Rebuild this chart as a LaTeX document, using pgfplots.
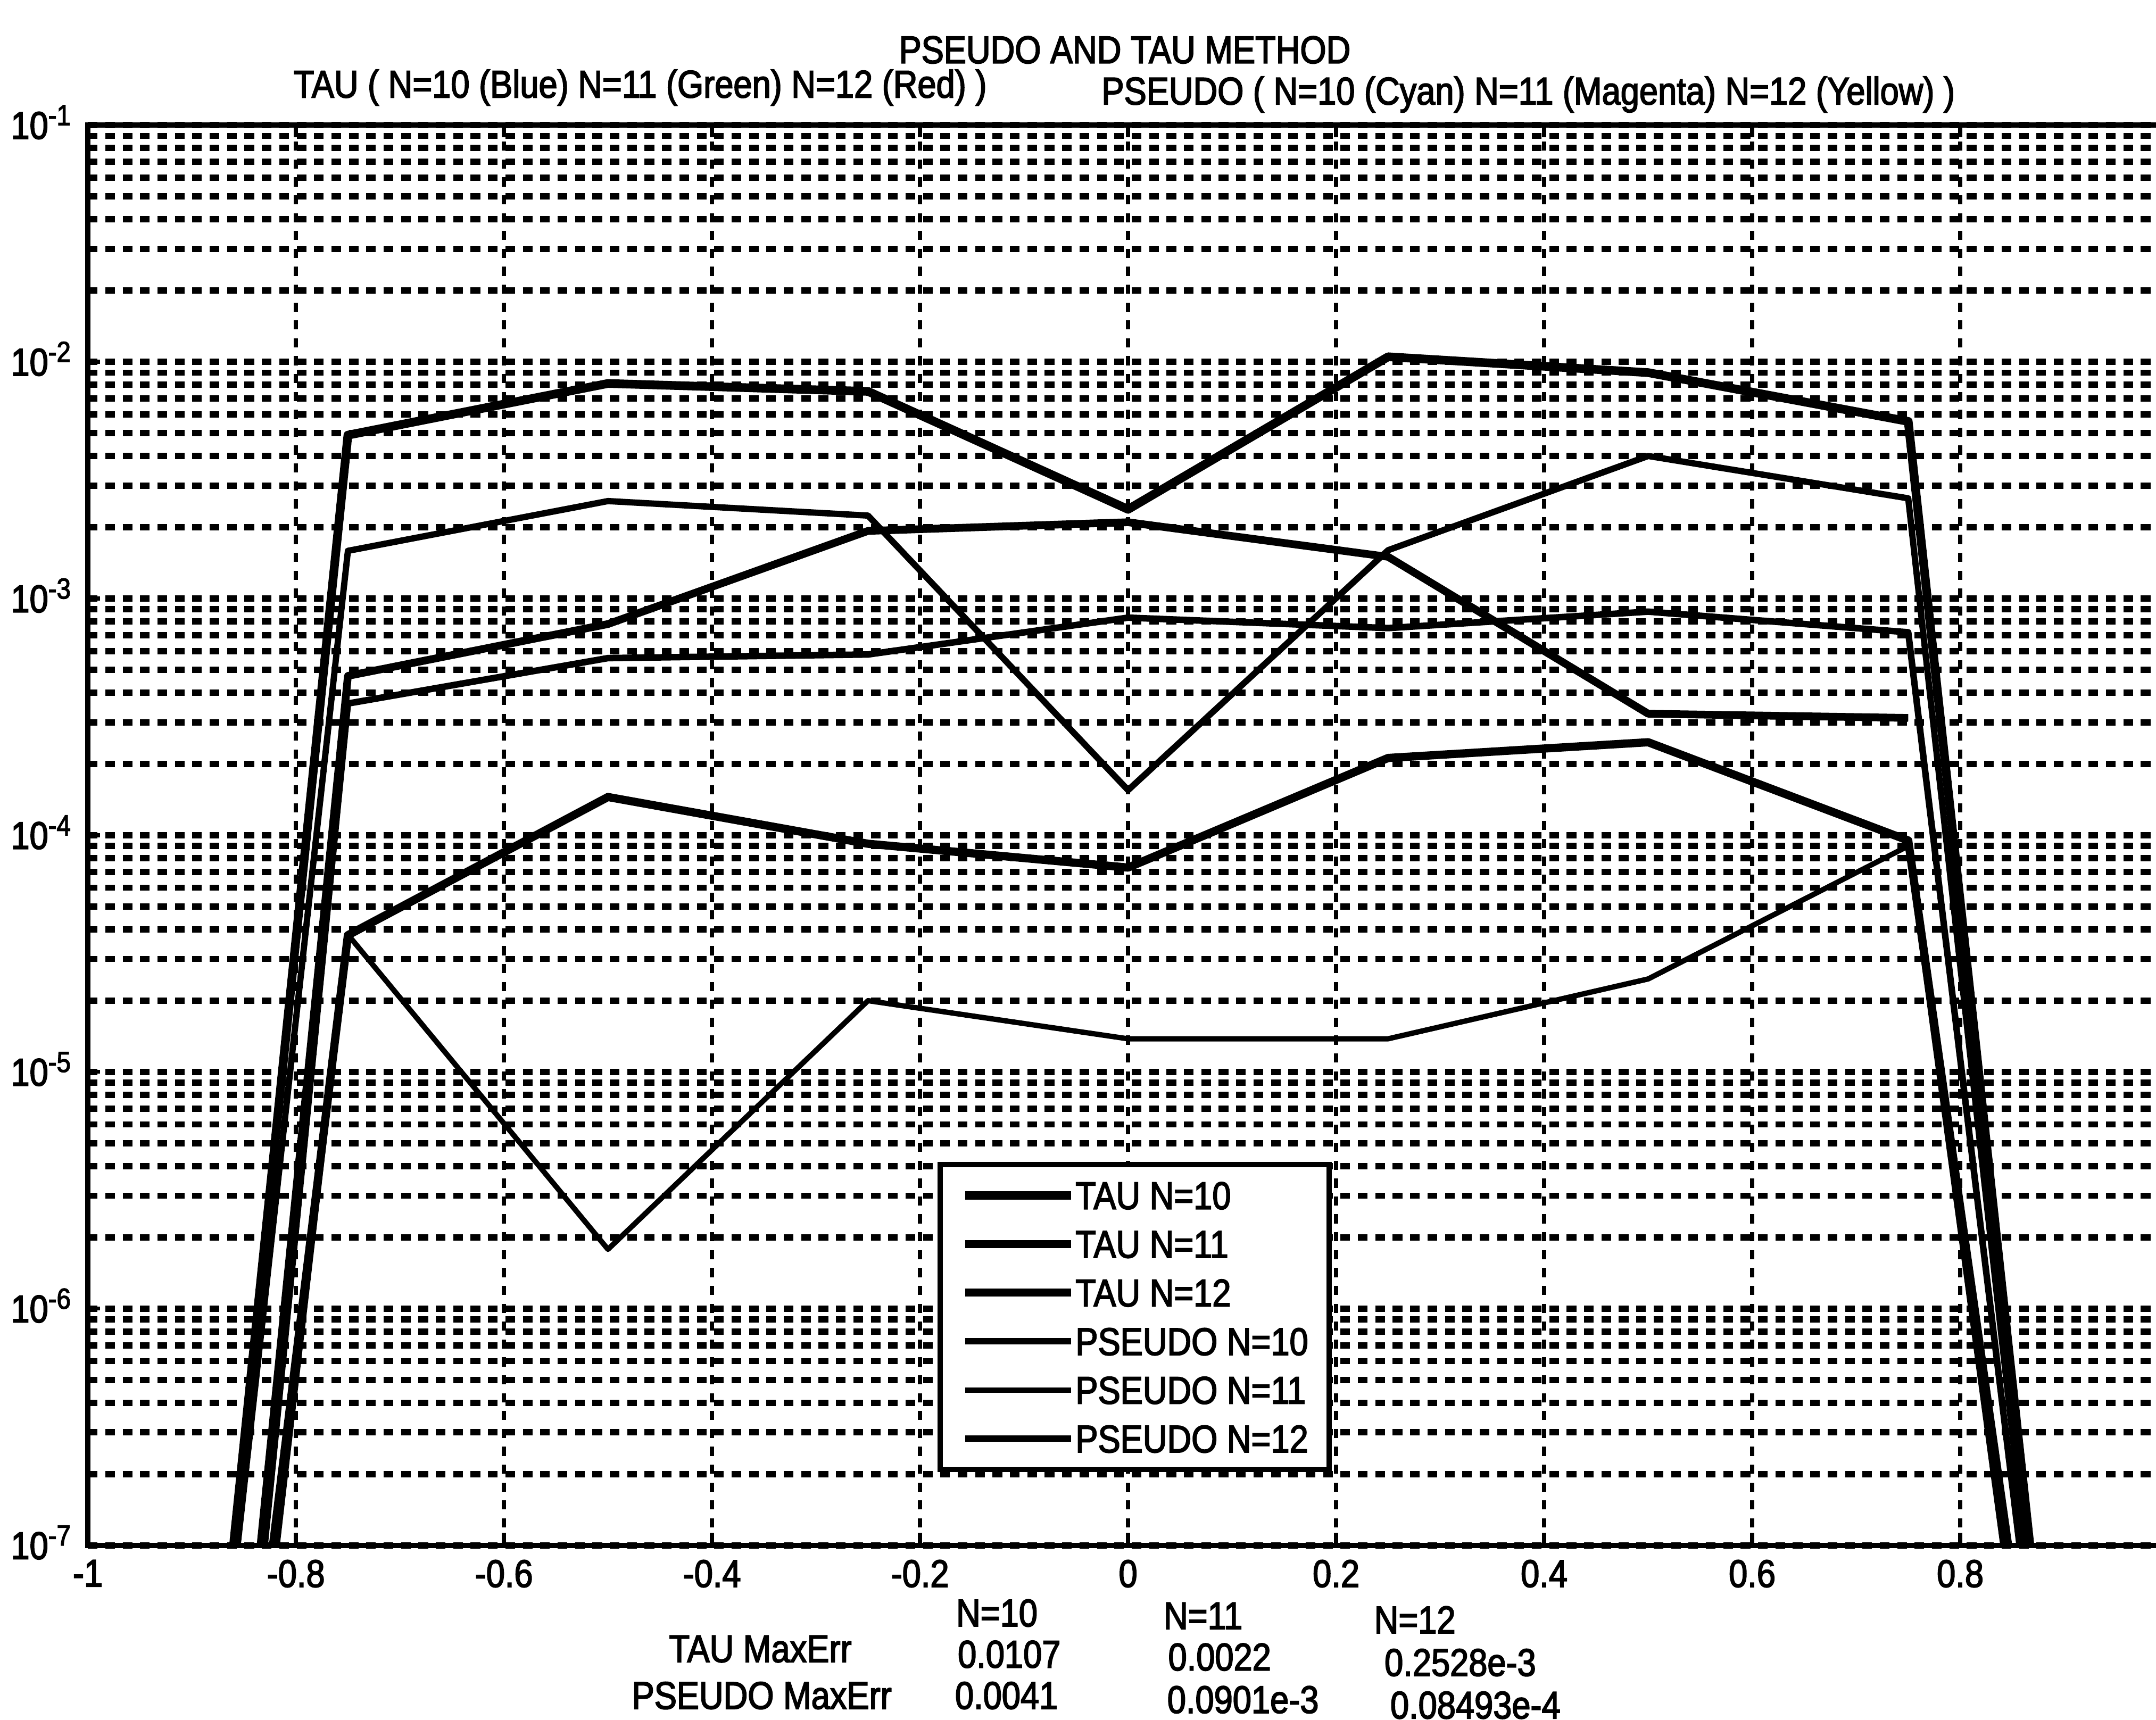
\documentclass[border=0pt]{standalone}
\usepackage{fontspec}
\setmainfont{Liberation Sans}[FakeStretch=0.87,FakeBold=2.5]
\usepackage{pgfplots}
\pgfplotsset{compat=1.18}
\usepackage{pgfplotstable}
\newcommand{\fs}{\fontsize{8pt}{9.6pt}\selectfont}

\pgfplotstableread{
x y
-0.88 1e-9
-0.860 1e-7
-0.75 4.9e-3
-0.5 8.1e-3
-0.25 7.5e-3
0 2.38e-3
0.25 1.05e-2
0.5 9.0e-3
0.75 5.6e-3
0.867 1e-7
0.887 1e-9
}\tauA
\pgfplotstableread{
x y
-0.854 1e-9
-0.834 1e-7
-0.75 4.71e-4
-0.5 7.8e-4
-0.25 1.93e-3
0 2.1e-3
0.25 1.5e-3
0.5 3.26e-4
0.75 3.13e-4
}\tauB
\pgfplotstableread{
x y
-0.842 1e-9
-0.822 1e-7
-0.75 3.78e-5
-0.5 1.45e-4
-0.25 9.2e-5
0 7.3e-5
0.25 2.12e-4
0.5 2.47e-4
0.75 9.5e-5
0.846 1e-7
0.866 1e-9
}\tauC
\pgfplotstableread{
x y
-0.876 1e-9
-0.856 1e-7
-0.75 1.59e-3
-0.5 2.58e-3
-0.25 2.24e-3
0 1.55e-4
0.25 1.6e-3
0.5 4.0e-3
0.75 2.65e-3
0.862 1e-7
0.882 1e-9
}\psA
\pgfplotstableread{
x y
-0.838 1e-9
-0.818 1e-7
-0.75 3.8e-5
-0.5 1.78e-6
-0.25 2.0e-5
0 1.38e-5
0.25 1.38e-5
0.5 2.47e-5
0.75 9.0e-5
0.841 1e-7
0.861 1e-9
}\psB
\pgfplotstableread{
x y
-0.85 1e-9
-0.830 1e-7
-0.75 3.6e-4
-0.5 5.6e-4
-0.25 5.8e-4
0 8.3e-4
0.25 7.5e-4
0.5 8.8e-4
0.75 7.2e-4
0.857 1e-7
0.877 1e-9
}\psC

\begin{document}
\begin{tikzpicture}[x=1cm,y=1cm]
\begin{axis}[
  at={(0.639cm,1.27cm)}, anchor=south west,
  scale only axis, width=15.13cm, height=10.33cm,
  xmin=-1, xmax=1, ymode=log, ymin=1e-7, ymax=1e-1,
  xtick={-1,-0.8,-0.6,-0.4,-0.2,0,0.2,0.4,0.6,0.8,1},
  xticklabels={-1,-0.8,-0.6,-0.4,-0.2,0,0.2,0.4,0.6,0.8,{}},
  ytick={1e-7,1e-6,1e-5,1e-4,1e-3,1e-2,1e-1},
  yticklabels={10\textsuperscript{-7},10\textsuperscript{-6},10\textsuperscript{-5},10\textsuperscript{-4},10\textsuperscript{-3},10\textsuperscript{-2},10\textsuperscript{-1}},
  xmajorgrids, ymajorgrids, yminorgrids,
  major x grid style={black, line width=0.8pt, dash pattern=on 1.9pt off 1.8pt},
  major y grid style={black, line width=1.3pt, dash pattern=on 2pt off 1.6pt},
  minor y grid style={black, line width=1.3pt, dash pattern=on 2pt off 1.6pt},
  tick align=inside,
  major tick length=0.09cm, minor tick length=0.05cm,
  tick style={black, line width=0.8pt},
  axis line style={line width=1.1pt},
  tick label style={font=\fs},
  xticklabel style={anchor=north, inner sep=0pt, yshift=-0.1cm},
  yticklabel style={anchor=base east, inner sep=0pt, xshift=-0.1cm, yshift=-0.1cm},
  legend style={at={(0.4085,0.2701)}, anchor=north west, draw=black, line width=1.1pt,
    fill=white, inner xsep=0.15cm, inner ysep=0.125cm, row sep=0.154cm, font=\fs,
    nodes={inner xsep=0cm, inner ysep=0pt, text height=0.2cm, text depth=0cm}},
  legend cell align=left,
  legend image code/.code={\draw[#1] (0cm,0cm) -- (0.77cm,0cm);},
  every axis plot/.append style={black, line join=round},
]
\addplot[line width=1.8pt] table {\tauA};
\addlegendentry{TAU N=10}
\addplot[line width=1.6pt] table {\tauB};
\addlegendentry{TAU N=11}
\addplot[line width=1.7pt] table {\tauC};
\addlegendentry{TAU N=12}
\addplot[line width=1.3pt] table {\psA};
\addlegendentry{PSEUDO N=10}
\addplot[line width=1.1pt] table {\psB};
\addlegendentry{PSEUDO N=11}
\addplot[line width=1.35pt] table {\psC};
\addlegendentry{PSEUDO N=12}
\end{axis}
\begin{scope}[every node/.style={inner sep=0pt, anchor=base, font=\fs}]
\node at (8.18,12.05) {PSEUDO AND TAU METHOD};
\node at (4.656,11.80) {TAU ( N=10 (Blue) N=11 (Green) N=12 (Red) )};
\node at (11.115,11.75) {PSEUDO ( N=10 (Cyan) N=11 (Magenta) N=12 (Yellow) )};
\node at (7.25,0.68) {N=10};
\node at (8.75,0.66) {N=11};
\node at (10.29,0.63) {N=12};
\node at (5.53,0.42) {TAU MaxErr};
\node at (7.34,0.38) {0.0107};
\node at (8.87,0.36) {0.0022};
\node at (10.62,0.32) {0.2528e-3};
\node at (5.54,0.08) {PSEUDO MaxErr};
\node at (7.32,0.08) {0.0041};
\node at (9.04,0.05) {0.0901e-3};
\node at (10.73,0.01) {0.08493e-4};
\end{scope}
\pgfresetboundingbox
\path[use as bounding box] (0,0) rectangle (15.68,12.51);
\end{tikzpicture}
\end{document}
